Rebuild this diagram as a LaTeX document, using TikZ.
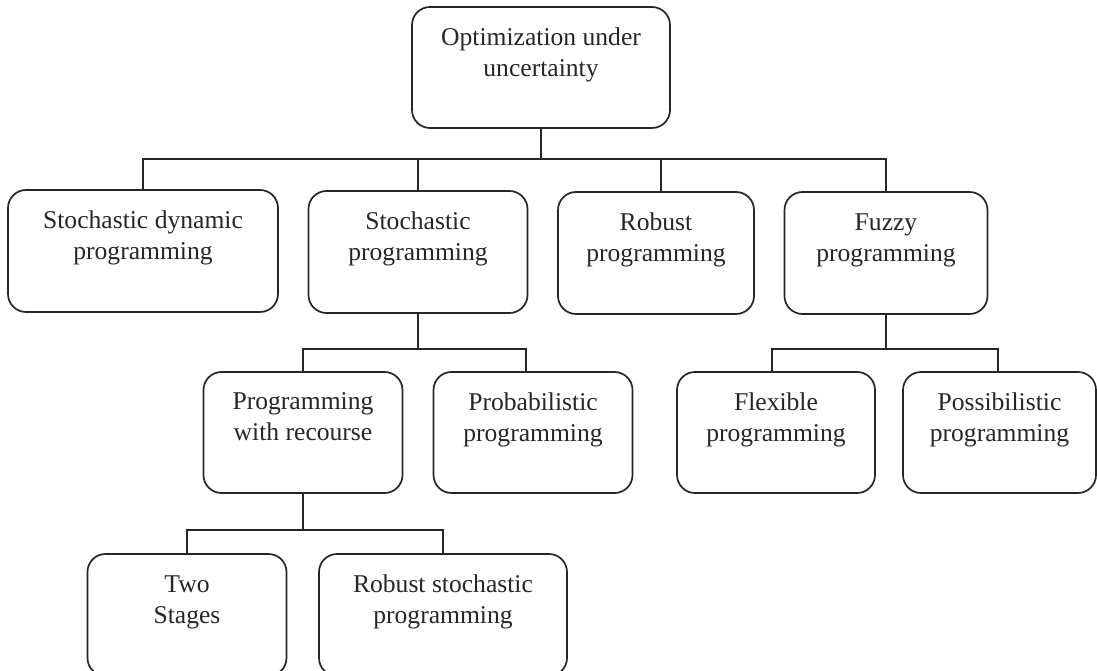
\documentclass[tikz,border=0pt]{standalone}
\usepackage{fontspec}
\setmainfont{Liberation Serif}
\begin{document}
\begin{tikzpicture}[x=1pt,y=-1pt,
  box/.style={draw=black!85, line width=1.7pt, rounded corners=18pt,
    align=center, inner sep=0pt, text=black!85,
    font=\fontsize{25.6}{31}\selectfont},
  link/.style={draw=black!85, line width=1.8pt}]
\useasboundingbox (0,0) rectangle (1097,671);
\clip (0,0) rectangle (1097,671);

% root
\node[box, minimum width=258pt, minimum height=121pt] (top) at (541,67.5)
  {Optimization under\\uncertainty\\\mbox{}};

% first level
\node[box, minimum width=270pt, minimum height=122pt] (sdp) at (143,251)
  {Stochastic dynamic\\programming\\\mbox{}};
\node[box, minimum width=219pt, minimum height=122pt] (sp) at (418,252)
  {Stochastic\\programming\\\mbox{}};
\node[box, minimum width=196pt, minimum height=122pt] (rp) at (656,253)
  {Robust\\programming\\\mbox{}};
\node[box, minimum width=203pt, minimum height=122pt] (fp) at (886,253)
  {Fuzzy\\programming\\\mbox{}};

% second level
\node[box, minimum width=199pt, minimum height=121pt] (pwr) at (303,432.5)
  {Programming\\with recourse\\\mbox{}};
\node[box, minimum width=199pt, minimum height=121pt] (prob) at (533,432.5)
  {Probabilistic\\programming\\\mbox{}};
\node[box, minimum width=198pt, minimum height=121pt] (flex) at (776,432.5)
  {Flexible\\programming\\\mbox{}};
\node[box, minimum width=193pt, minimum height=121pt] (poss) at (999.5,432.5)
  {Possibilistic\\programming\\\mbox{}};

% third level
\node[box, minimum width=199pt, minimum height=122pt] (two) at (187,615)
  {Two\\Stages\\\mbox{}};
\node[box, minimum width=248pt, minimum height=122pt] (rsp) at (443,615)
  {Robust stochastic\\programming\\\mbox{}};

% connectors: root
\path (top.south) ++(0,30) coordinate (bus1);
\draw[link] (top.south) -- (bus1);
\draw[link] (sdp.north) |- (bus1 -| fp.north) -- (fp.north);
\draw[link] (sp.north) -- (sp.north |- bus1);
\draw[link] ([xshift=5pt]rp.north) -- ([xshift=5pt]rp.north |- bus1);

% connectors: stochastic programming
\path (sp.south) ++(0,35) coordinate (bus2);
\draw[link] (sp.south) -- (bus2);
\draw[link] (pwr.north) |- ([xshift=-7pt]prob.north |- bus2) -- ([xshift=-7pt]prob.north);

% connectors: fuzzy programming
\path (fp.south) ++(0,34) coordinate (bus2f);
\draw[link] (fp.south) -- (bus2f);
\draw[link] ([xshift=-4pt]flex.north) |- ([xshift=-1.5pt]poss.north |- bus2f) -- ([xshift=-1.5pt]poss.north);

% connectors: programming with recourse
\path (pwr.south) ++(0,36) coordinate (bus3);
\draw[link] (pwr.south) -- (bus3);
\draw[link] (two.north) |- (rsp.north |- bus3) -- (rsp.north);
\end{tikzpicture}
\end{document}
